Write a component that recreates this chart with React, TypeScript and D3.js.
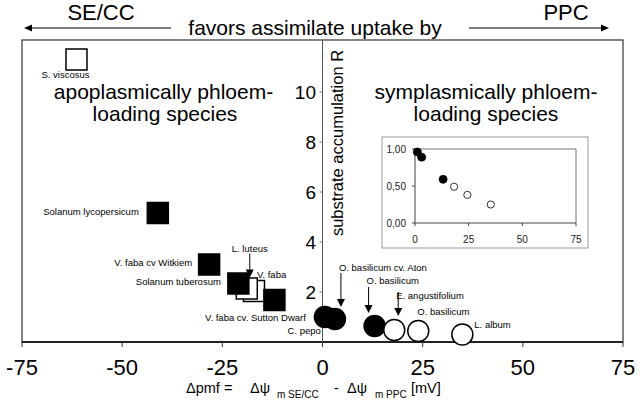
import React from 'react';
import * as d3 from 'd3';

// main chart: delta pmf [mV] vs substrate accumulation R
const species = [
  'V. faba', 'L. luteus', 'S. viscosus', 'Solanum lycopersicum', 'V. faba cv Witkiem',
  'Solanum tuberosum', 'V. faba cv. Sutton Dwarf', 'C. pepo', 'O. basilicum cv. Aton',
  'O. basilicum', 'E. angustifolium', 'O. basilicum', 'L. album',
];
const deltaPmf = [-17.1, -18.9, -61.4, -41.1, -28.3, -21, -12, 0.6, 3.1, 13, 17.9, 23.9, 34.9];
const accumulation = [2.04, 2.14, 11.3, 5.16, 3.1, 2.34, 1.68, 1.0, 0.92, 0.64, 0.48, 0.44, 0.3];
const loading = ['apo', 'apo', 'apo', 'apo', 'apo', 'apo', 'apo', 'sym', 'sym', 'sym', 'sym', 'sym', 'sym'];
const filled = [false, false, false, true, true, true, true, true, true, true, false, false, false];

const xTicks = [-75, -50, -25, 0, 25, 50, 75];
const yTicks = [2, 4, 6, 8, 10];

// inset: relative accumulation of the symplasmic species
const insetX = [1.1, 3.1, 13.1, 18.2, 24.4, 35.3];
const insetY = [0.96, 0.89, 0.59, 0.49, 0.38, 0.25];
const insetFilled = [true, true, true, false, false, false];
const insetXTicks = [0, 25, 50, 75];
const insetYTicks = [0, 0.5, 1];

// label placement relative to each mark (pixels)
const labelLayout = [
  { dx: 3, dy: -13, anchor: 'start' },
  { dx: 3, dy: -37, anchor: 'middle', arrow: [-35, -11] },
  { dx: -35, dy: 18.5, anchor: 'start' },
  { dx: -19, dy: 2, anchor: 'end' },
  { dx: -17, dy: 1.5, anchor: 'end' },
  { dx: -17.5, dy: 1.5, anchor: 'end' },
  { dx: -19, dy: 21, anchor: 'middle' },
  { dx: -4, dy: 17, anchor: 'end' },
  { dx: 4, dy: -48, anchor: 'start', arrow: [-46, -12] },
  { dx: -8, dy: -42, anchor: 'start', arrow: [-39, -13] },
  { dx: 2, dy: -31, anchor: 'start', arrow: [-38, -14] },
  { dx: -1, dy: -16, anchor: 'start' },
  { dx: 12, dy: -6.5, anchor: 'start' },
];

const FONT = '"Liberation Sans", Arial, Helvetica, sans-serif';
const W = 640;
const H = 403;

const Arrow = ({ x, y1, y2 }) => (
  <g>
    <line x1={x} x2={x} y1={y1} y2={y2 - 7} stroke="#000" strokeWidth={1} />
    <path d={`M${x - 4},${y2 - 8} L${x + 4},${y2 - 8} L${x},${y2} Z`} fill="#000" />
  </g>
);

export default function App() {
  const x = d3.scaleLinear().domain([-75, 75]).range([22, 623]);
  const y = d3.scaleLinear().domain([0, 12]).range([342, 42]);
  const top = 40;
  const sq = 21;
  const r = 10.5;

  const ix = d3.scaleLinear().domain([0, 75]).range([415, 576]);
  const iy = d3.scaleLinear().domain([0, 1]).range([223, 149]);

  const order = d3.range(species.length);

  return (
    <svg width={W} height={H} style={{ position: 'absolute', left: 0, top: 0 }} fontFamily={FONT}>
      <rect width={W} height={H} fill="#fff" />

      {/* header arrows */}
      <line x1={30} x2={171} y1={28} y2={28} stroke="#000" strokeWidth={1} />
      <path d="M24,28 L32,24.5 L32,31.5 Z" fill="#000" />
      <line x1={469} x2={602} y1={28} y2={28} stroke="#000" strokeWidth={1} />
      <path d="M609,28 L601,24.5 L601,31.5 Z" fill="#000" />
      <text x={101} y={20} fontSize={22} textAnchor="middle">SE/CC</text>
      <text x={566} y={20} fontSize={22} textAnchor="middle">PPC</text>
      <text x={315} y={35} fontSize={21} textAnchor="middle">favors assimilate uptake by</text>

      {/* frame */}
      <rect x={x(-75)} y={top} width={x(75) - x(-75)} height={y(0) - top} fill="none" stroke="#333" strokeWidth={1.2} />
      <line x1={x(-75)} x2={x(75)} y1={y(0)} y2={y(0)} stroke="#222" strokeWidth={2} />
      <line x1={x(0)} x2={x(0)} y1={top} y2={y(0)} stroke="#555" strokeWidth={1} />

      {/* x axis */}
      {xTicks.map(t => (
        <g key={t}>
          <line x1={x(t)} x2={x(t)} y1={y(0)} y2={y(0) + 5} stroke="#333" />
          <text x={x(t)} y={375} fontSize={22} textAnchor="middle">{t}</text>
        </g>
      ))}
      <g fontSize={14.5}>
        <text x={186} y={393}>Δpmf =</text>
        <text x={250} y={393}>Δψ</text>
        <text x={277} y={398} fontSize={10}>m SE/CC</text>
        <text x={334} y={393}>-</text>
        <text x={347} y={393}>Δψ</text>
        <text x={375} y={398} fontSize={10}>m PPC</text>
        <text x={411} y={393}>[mV]</text>
      </g>

      {/* y axis */}
      {yTicks.map(t => (
        <g key={t}>
          <line x1={x(0) - 3} x2={x(0)} y1={y(t)} y2={y(t)} stroke="#777" />
          <text x={316} y={y(t) + 7} fontSize={19} textAnchor="end">{t}</text>
        </g>
      ))}
      <text transform={`translate(343,143) rotate(-90)`} fontSize={16.5} textAnchor="middle">
        substrate accumulation R
      </text>

      {/* group titles */}
      <g fontSize={21} textAnchor="middle">
        <text x={163.5} y={99}>apoplasmically phloem-</text>
        <text x={165} y={121}>loading species</text>
        <text x={486} y={99}>symplasmically phloem-</text>
        <text x={486} y={121}>loading species</text>
      </g>

      {/* inset */}
      <rect x={382} y={137} width={206} height={111} fill="#fff" stroke="#999" strokeWidth={1} />
      <line x1={ix(0)} x2={ix(75)} y1={iy(1)} y2={iy(1)} stroke="#777" strokeWidth={1} />
      <line x1={ix(75)} x2={ix(75)} y1={iy(1)} y2={iy(0)} stroke="#777" strokeWidth={1} />
      <line x1={ix(0)} x2={ix(0)} y1={iy(1)} y2={iy(0)} stroke="#444" strokeWidth={1} />
      <line x1={ix(0)} x2={ix(75)} y1={iy(0)} y2={iy(0)} stroke="#444" strokeWidth={1} />
      {insetXTicks.map(t => (
        <g key={t}>
          <line x1={ix(t)} x2={ix(t)} y1={iy(0)} y2={iy(0) + 3} stroke="#444" />
          <text x={ix(t)} y={243} fontSize={10} textAnchor="middle" fill="#222">{t}</text>
        </g>
      ))}
      {insetYTicks.map(t => (
        <g key={t}>
          <line x1={ix(0) - 3} x2={ix(0)} y1={iy(t)} y2={iy(t)} stroke="#444" />
          <text x={406} y={iy(t) + 3.5} fontSize={10} textAnchor="end" fill="#222">
            {d3.format('.2f')(t).replace('.', ',')}
          </text>
        </g>
      ))}
      {insetX.map((v, i) => (
        <circle key={i} cx={ix(v)} cy={iy(insetY[i])} r={insetFilled[i] ? 4 : 3.6}
          fill={insetFilled[i] ? '#000' : '#fff'} stroke="#000" strokeWidth={0.8} />
      ))}

      {/* marks */}
      {order.map(i => {
        const cx = x(deltaPmf[i]);
        const cy = y(accumulation[i]);
        const fill = filled[i] ? '#000' : '#fff';
        return loading[i] === 'apo' ? (
          <rect key={i} x={cx - sq / 2} y={cy - sq / 2} width={sq} height={sq}
            fill={fill} stroke="#000" strokeWidth={1.5} />
        ) : (
          <circle key={i} cx={cx} cy={cy} r={r} fill={fill} stroke="#000" strokeWidth={1.5} />
        );
      })}

      {/* labels */}
      <g fontSize={9.5}>
        {order.map(i => {
          const cx = x(deltaPmf[i]);
          const cy = y(accumulation[i]);
          const l = labelLayout[i];
          return (
            <g key={i}>
              <text x={cx + l.dx} y={cy + l.dy} textAnchor={l.anchor}>{species[i]}</text>
              {l.arrow && <Arrow x={cx + l.dx + (l.anchor === 'middle' ? 0 : 2)} y1={cy + l.arrow[0]} y2={cy + l.arrow[1]} />}
            </g>
          );
        })}
      </g>
    </svg>
  );
}
